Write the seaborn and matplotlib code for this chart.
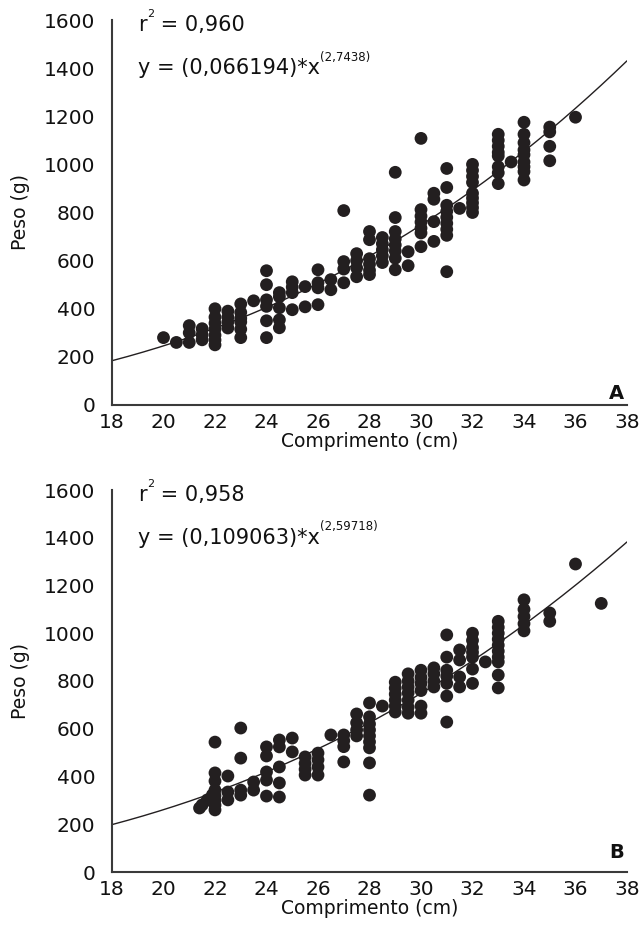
import numpy as np
import pandas as pd
import matplotlib
matplotlib.use("Agg")
import matplotlib.pyplot as plt
import seaborn as sns

# ---- Data ----
comp_a = ([20.0] + [20.5] + [21.0]*3 + [21.5]*3 + [22.0]*7 + [22.5]*4 + [23.0]*6 + [23.5]
          + [24.0]*6 + [24.5]*5 + [25.0]*4 + [25.5]*2 + [26.0]*4 + [26.5]*2 + [27.0]*4
          + [27.5]*4 + [28.0]*6 + [28.5]*5 + [29.0]*8 + [29.5]*2 + [30.0]*7 + [30.5]*4
          + [31.0]*9 + [31.5] + [32.0]*9 + [33.0]*8 + [33.5] + [34.0]*9 + [35.0]*4 + [36.0])
peso_a = [280,
          260,
          330, 300, 260,
          317, 292, 271,
          400, 365, 340, 315, 290, 270, 250,
          390, 365, 345, 320,
          420, 385, 360, 345, 315, 280,
          433,
          558, 500, 437, 410, 350, 280,
          467, 450, 404, 354, 321,
          512, 490, 467, 396,
          492, 408,
          562, 508, 487, 417,
          521, 479,
          808, 596, 565, 508,
          629, 600, 570, 533,
          721, 687, 608, 585, 560, 542,
          696, 670, 645, 620, 592,
          967, 779, 721, 690, 665, 640, 610, 562,
          637, 579,
          1108, 812, 785, 760, 735, 715, 658,
          880, 855, 762, 680,
          983, 904, 830, 805, 780, 755, 730, 705, 554,
          817,
          1000, 975, 950, 925, 880, 860, 840, 820, 800,
          1125, 1100, 1075, 1050, 1035, 990, 965, 920,
          1010,
          1175, 1125, 1090, 1060, 1040, 1010, 990, 970, 935,
          1155, 1135, 1075, 1015,
          1196]

comp_b = ([21.4, 21.5, 21.7, 21.9] + [22.0]*8 + [22.5]*3 + [23.0]*4 + [23.5]*2 + [24.0]*5
          + [24.5]*5 + [25.0]*2 + [25.5]*4 + [26.0]*4 + [26.5] + [27.0]*4 + [27.5]*4
          + [28.0]*9 + [28.5] + [29.0]*6 + [29.5]*7 + [30.0]*6 + [30.5]*4 + [31.0]*7
          + [31.5]*4 + [32.0]*7 + [32.5] + [33.0]*10 + [34.0]*5 + [35.0]*2 + [36.0] + [37.0])
peso_b = [268, 281, 302, 323,
          544, 415, 381, 343, 320, 300, 280, 260,
          402, 335, 302,
          603, 477, 343, 322,
          377, 343,
          524, 486, 419, 385, 318,
          553, 524, 440, 373, 314,
          561, 503,
          482, 455, 430, 406,
          498, 470, 440, 406,
          574,
          574, 550, 525, 461,
          662, 625, 595, 570,
          708, 650, 620, 595, 570, 545, 520, 457, 322,
          695,
          795, 770, 745, 720, 695, 670,
          830, 800, 775, 750, 720, 690, 665,
          845, 815, 790, 760, 695, 665,
          855, 830, 800, 775,
          993, 900, 845, 820, 790, 737, 628,
          930, 888, 817, 775,
          1000, 970, 940, 920, 900, 850, 790,
          880,
          1050, 1025, 1000, 975, 950, 925, 900, 880, 825, 771,
          1140, 1100, 1070, 1040, 1010,
          1085, 1050,
          1290,
          1125]

# fitted models shown on the chart
coef_a, expo_a, r2_a = 0.066194, 2.7438, "0,960"
coef_b, expo_b, r2_b = 0.109063, 2.59718, "0,958"

x_ticks = [18, 20, 22, 24, 26, 28, 30, 32, 34, 36, 38]
y_ticks = [0, 200, 400, 600, 800, 1000, 1200, 1400, 1600]

sns.set_style("white")
plt.rcParams['font.family'] = ['DejaVu Sans']

fig = plt.figure(figsize=(6.43, 9.41), dpi=100)
ax_a = fig.add_axes([112/643, 1 - 405/941, 515/643, 385/941])
ax_b = fig.add_axes([112/643, 1 - 872/941, 515/643, 382/941])

dark = "#231f20"
spine_c = "#3a3a3a"
txt_c = "#111111"

panels = [
    (ax_a, comp_a, peso_a, coef_a, expo_a, r2_a, "(0,066194)", "(2,7438)", "A", 0.004),
    (ax_b, comp_b, peso_b, coef_b, expo_b, r2_b, "(0,109063)", "(2,59718)", "B", 0.025),
]

for ax, cx, py, c, e, r2, ctxt, etxt, lab, laby in panels:
    df = pd.DataFrame({"Comprimento": cx, "Peso": py})
    xs = np.linspace(18, 38, 200)
    curve = pd.DataFrame({"x": xs, "y": c * xs ** e})
    sns.lineplot(data=curve, x="x", y="y", ax=ax, color=dark, lw=1.0)
    sns.scatterplot(data=df, x="Comprimento", y="Peso", ax=ax, color=dark,
                    s=85, edgecolor="none", linewidth=0, zorder=3)
    ax.set_xlim(18, 38)
    ax.set_ylim(0, 1600)
    ax.set_xticks(x_ticks)
    ax.set_yticks(y_ticks)
    ax.tick_params(direction="in", length=3, width=1.2, color=spine_c,
                   labelsize=14.5, labelcolor=txt_c)
    ax.tick_params(axis="y", pad=12)
    ax.tick_params(axis="x", pad=6)
    for s in ["top", "right"]:
        ax.spines[s].set_visible(False)
    for s in ["left", "bottom"]:
        ax.spines[s].set_color(spine_c)
        ax.spines[s].set_linewidth(1.5)
    ax.set_xlabel("Comprimento (cm)", fontsize=13.5, labelpad=0, color=txt_c)
    ax.set_ylabel("Peso (g)", fontsize=13.5, labelpad=10, color=txt_c)
    # r^2 line
    t1 = ax.text(0.05, 0.987, "r", transform=ax.transAxes,
                 fontsize=15, va="center", ha="left", color=txt_c)
    s1 = ax.annotate("2", xy=(1.08, 0.78), xycoords=t1, fontsize=8,
                     va="bottom", ha="left", color=txt_c)
    ax.annotate(" = " + r2, xy=(1.0, 0.0), xycoords=(s1, t1), fontsize=15,
                va="bottom", ha="left", color=txt_c)
    # equation line
    t2 = ax.text(0.05, 0.875, "y = " + ctxt + "*x", transform=ax.transAxes,
                 fontsize=15, va="center", ha="left", color=txt_c)
    ax.annotate(etxt, xy=(1.0, 0.72), xycoords=t2, fontsize=8.5,
                va="bottom", ha="left", color=txt_c)
    ax.text(0.995, laby, lab, transform=ax.transAxes, fontsize=14,
            fontweight="bold", ha="right", va="bottom", color=txt_c)

fig.savefig("out.png", dpi=100)
